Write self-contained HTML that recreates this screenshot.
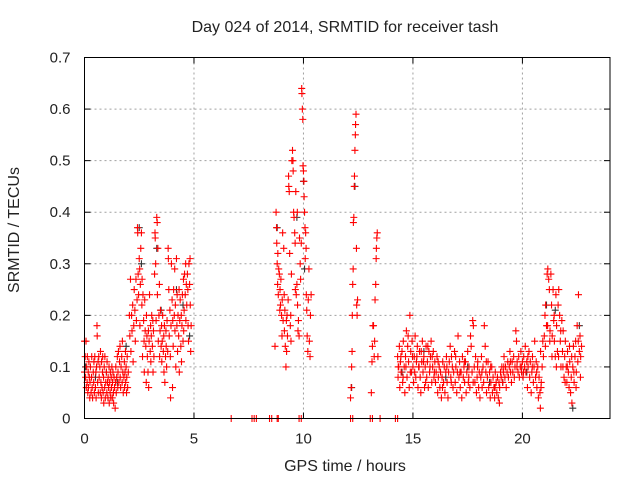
<!DOCTYPE html>
<html><head><meta charset="utf-8"><style>
body{margin:0;background:#fff;width:640px;height:480px;overflow:hidden}
svg{font-family:"Liberation Sans",sans-serif}
</style></head><body>
<svg id="c" width="640" height="480" xmlns="http://www.w3.org/2000/svg"></svg>
<script>
const xTicks=[0,5,10,15,20];
const yTicks=[0,0.1,0.2,0.3,0.4,0.5,0.6,0.7];
const yTickLabels=["0","0.1","0.2","0.3","0.4","0.5","0.6","0.7"];
const segA=[[0,.09],[0,.15],[.03,.12],[.05,.08],[.07,.15],[.08,.06],[.1,.1],[.12,.07],[.13,.12],[.15,.05],[.17,.09],[.18,.06],[.2,.11],[.22,.08],[.24,.04],[.25,.07],[.27,.1],[.3,.05],[.32,.08],[.33,.12],[.35,.06],[.37,.04],[.4,.09],[.42,.07],[.43,.11],[.45,.05],[.47,.12],[.5,.06],[.52,.09],[.53,.04],[.55,.1],[.57,.18],[.58,.16],[.6,.07],[.62,.11],[.63,.05],[.65,.12],[.67,.08],[.7,.1],[.72,.05],[.73,.13],[.75,.07],[.77,.04],[.78,.11],[.8,.06],[.82,.09],[.83,.12],[.85,.05],[.87,.08],[.88,.03],[.9,.1],[.92,.06],[.93,.12],[.95,.04],[.97,.07],[1,.09],[1.02,.05],[1.03,.11],[1.05,.07],[1.07,.04],[1.08,.08],[1.1,.06],[1.12,.1],[1.13,.03],[1.15,.07],[1.17,.05],[1.18,.09],[1.2,.04],[1.22,.08],[1.23,.06],[1.25,.1],[1.27,.04],[1.28,.07],[1.3,.09],[1.32,.05],[1.33,.03],[1.35,.08],[1.37,.06],[1.4,.02],[1.42,.07],[1.43,.1],[1.45,.05],[1.47,.08],[1.5,.12],[1.52,.06],[1.53,.09],[1.55,.13],[1.57,.07],[1.6,.11],[1.62,.14],[1.63,.08],[1.65,.06],[1.67,.1],[1.7,.12],[1.72,.07],[1.73,.15],[1.75,.09],[1.77,.05],[1.8,.08],[1.82,.11],[1.83,.06],[1.85,.09],[1.87,.13],[1.88,.07],[1.9,.1],[1.92,.05],[1.93,.08],[1.95,.12],[1.97,.06],[2,.09]];
const segB=[[2.05,.2],[2.07,.16],[2.1,.27],[2.12,.13],[2.15,.2],[2.17,.17],[2.2,.22],[2.22,.11],[2.25,.18],[2.27,.25],[2.3,.21],[2.32,.15],[2.35,.27],[2.37,.19],[2.4,.23],[2.42,.37],[2.43,.36],[2.45,.28],[2.47,.24],[2.5,.31],[2.52,.29],[2.53,.18],[2.55,.26],[2.57,.33],[2.6,.36],[2.62,.22],[2.63,.27],[2.65,.12],[2.67,.24],[2.7,.19],[2.72,.15],[2.73,.09],[2.75,.23],[2.77,.17],[2.8,.14],[2.82,.07],[2.83,.2],[2.85,.16],[2.87,.12],[2.9,.09],[2.92,.17],[2.93,.06],[2.95,.15],[2.97,.24],[3,.13],[3.02,.18],[3.03,.11],[3.05,.16],[3.07,.2],[3.1,.14],[3.12,.19],[3.13,.09],[3.15,.17],[3.17,.12],[3.2,.28],[3.22,.36],[3.23,.35],[3.25,.3],[3.27,.19],[3.3,.39],[3.32,.38],[3.33,.24],[3.35,.33],[3.37,.15],[3.4,.2],[3.42,.26],[3.43,.12],[3.45,.17],[3.47,.21],[3.5,.14],[3.52,.18],[3.53,.11],[3.55,.15],[3.57,.2],[3.6,.13],[3.62,.16],[3.63,.09],[3.65,.18],[3.67,.07],[3.7,.12],[3.72,.17],[3.73,.14],[3.75,.1],[3.77,.19],[3.8,.13],[3.82,.33],[3.83,.31],[3.85,.25],[3.87,.16],[3.9,.21],[3.92,.12],[3.93,.04],[3.95,.18],[3.97,.3],[4,.23],[4.02,.06],[4.03,.19],[4.05,.14],[4.07,.25],[4.1,.2],[4.12,.29],[4.13,.17],[4.15,.22],[4.17,.1],[4.2,.31],[4.22,.18],[4.23,.24],[4.25,.13],[4.27,.2],[4.3,.16],[4.32,.25],[4.33,.09],[4.35,.19],[4.37,.23],[4.4,.14],[4.42,.2],[4.43,.11],[4.45,.18],[4.47,.24],[4.5,.15],[4.52,.27],[4.53,.17],[4.55,.21],[4.57,.28],[4.6,.24],[4.62,.3],[4.63,.19],[4.65,.26],[4.67,.22],[4.7,.28],[4.72,.25],[4.73,.18],[4.75,.15],[4.77,.3],[4.8,.26],[4.82,.31],[4.83,.22],[4.85,.13],[4.87,.18]];
const segC=[[8.7,.14],[8.75,.4],[8.77,.37],[8.78,.34],[8.8,.3],[8.82,.26],[8.83,.32],[8.85,.24],[8.87,.29],[8.9,.28],[8.92,.21],[8.93,.25],[8.95,.22],[8.97,.27],[9,.2],[9.02,.16],[9.03,.23],[9.05,.36],[9.07,.19],[9.1,.33],[9.12,.24],[9.13,.17],[9.15,.21],[9.17,.14],[9.2,.1],[9.22,.19],[9.23,.13],[9.25,.2],[9.27,.16],[9.3,.23],[9.32,.47],[9.33,.45],[9.35,.44],[9.37,.32],[9.4,.18],[9.42,.2],[9.43,.15],[9.45,.28],[9.47,.5],[9.5,.52],[9.52,.5],[9.53,.48],[9.55,.4],[9.57,.39],[9.6,.36],[9.62,.34],[9.63,.25],[9.65,.44],[9.67,.24],[9.7,.26],[9.72,.4],[9.73,.22],[9.75,.17],[9.77,.19],[9.8,.16],[9.82,.35],[9.85,.3],[9.87,.27],[9.9,.34],[9.92,.64],[9.93,.63],[9.95,.6],[9.97,.58],[9.98,.49],[10,.48],[10.02,.46],[10.03,.43],[10.05,.4],[10.07,.37],[10.08,.31],[10.1,.36],[10.12,.33],[10.13,.24],[10.15,.21],[10.17,.16],[10.2,.13],[10.22,.23],[10.25,.29],[10.27,.15],[10.3,.12],[10.32,.2],[10.35,.24]];
const segD=[[12.15,.04],[12.18,.06],[12.2,.1],[12.22,.13],[12.23,.2],[12.25,.26],[12.27,.29],[12.28,.38],[12.3,.39],[12.32,.45],[12.33,.47],[12.35,.52],[12.37,.55],[12.38,.57],[12.4,.59],[12.42,.33],[12.43,.22],[12.45,.2],[12.47,.23],[13.1,.05],[13.13,.11],[13.15,.14],[13.17,.18],[13.2,.18],[13.23,.12],[13.25,.15],[13.27,.23],[13.3,.26],[13.32,.31],[13.33,.33],[13.35,.35],[13.37,.36],[13.4,.12]];
const segF=[[14.3,.12],[14.32,.08],[14.35,.1],[14.38,.14],[14.4,.06],[14.43,.11],[14.46,.09],[14.5,.13],[14.53,.07],[14.56,.15],[14.6,.1],[14.63,.05],[14.66,.12],[14.7,.17],[14.73,.08],[14.76,.14],[14.8,.11],[14.83,.06],[14.86,.2],[14.9,.13],[14.93,.09],[14.96,.15],[15,.1],[15.03,.07],[15.06,.12],[15.1,.16],[15.13,.08],[15.16,.11],[15.2,.14],[15.23,.06],[15.26,.1],[15.3,.13],[15.33,.08],[15.36,.05],[15.4,.11],[15.43,.15],[15.46,.09],[15.5,.12],[15.53,.06],[15.56,.1],[15.6,.14],[15.63,.08],[15.66,.11],[15.7,.06],[15.73,.13],[15.76,.09],[15.8,.12],[15.83,.15],[15.86,.07],[15.9,.1],[15.93,.13],[15.96,.08],[16,.11],
[14.33,.1],[14.45,.12],[14.55,.08],[14.68,.1],[14.78,.16],[14.88,.09],[14.98,.12],[15.08,.09],[15.18,.12],[15.28,.1],[15.38,.13],[15.48,.11],[15.58,.07],[15.68,.14],[15.78,.1],[15.88,.12],[15.98,.09]];
const segG=[[16.03,.07],[16.06,.09],[16.1,.12],[16.13,.05],[16.16,.08],[16.2,.1],[16.23,.06],[16.26,.09],[16.3,.04],[16.33,.08],[16.36,.11],[16.4,.07],[16.43,.1],[16.46,.05],[16.5,.09],[16.53,.12],[16.56,.07],[16.6,.04],[16.63,.09],[16.66,.11],[16.7,.14],[16.73,.08],[16.76,.12],[16.8,.1],[16.83,.06],[16.86,.09],[16.9,.13],[16.93,.07],[16.96,.1],[17,.05],[17.03,.09],[17.06,.16],[17.1,.08],[17.13,.11],[17.16,.06],[17.2,.09],[17.23,.04],[17.26,.12],[17.3,.08],[17.33,.1],[17.36,.07],[17.4,.11],[17.43,.05],[17.46,.09],[17.5,.13],[17.53,.07],[17.56,.1],[17.6,.06],[17.63,.16],[17.66,.14],[17.7,.09],[17.73,.19],[17.76,.18],[17.8,.1],[17.83,.07],[17.86,.12],[17.9,.05],[17.93,.08],[17.96,.11],[18,.06],[18.03,.09],[18.06,.04],[18.1,.08],[18.13,.12],[18.16,.06],[18.2,.1],[18.23,.07],[18.26,.18],[18.3,.14],[18.33,.09],[18.36,.05],[18.4,.08],[18.43,.11],[18.46,.06],[18.5,.09],[18.53,.04],[18.56,.07],[18.6,.1],[18.63,.05],[18.66,.08],[18.7,.06],[18.73,.04],[18.76,.09],[18.8,.07],[18.83,.05],[18.86,.08],[18.9,.04],[18.93,.07],[18.96,.06],[19,.09],
[16.15,.11],[16.35,.06],[16.55,.1],[16.75,.07],[16.95,.12],[17.15,.09],[17.35,.11],[17.55,.08],[17.75,.07],[17.95,.1],[18.15,.09],[18.35,.11],[18.55,.1],[18.75,.06],[18.95,.03]];
const segH=[[19.03,.08],[19.06,.1],[19.1,.07],[19.13,.09],[19.16,.12],[19.2,.08],[19.23,.1],[19.26,.06],[19.3,.09],[19.33,.11],[19.36,.08],[19.4,.1],[19.43,.13],[19.46,.09],[19.5,.07],[19.53,.11],[19.56,.09],[19.6,.12],[19.63,.08],[19.66,.1],[19.7,.17],[19.73,.15],[19.76,.11],[19.8,.09],[19.83,.12],[19.86,.08],[19.9,.1],[19.93,.13],[19.96,.09],[20,.11],[20.03,.08],[20.06,.12],[20.1,.1],[20.13,.14],[20.16,.09],[20.2,.11],[20.23,.06],[20.26,.1],[20.3,.13],[20.33,.08],[20.36,.11],[20.4,.05],[20.43,.09],[20.46,.12],[20.5,.07],[20.53,.1],[20.56,.15],[20.6,.08],[20.63,.11],[20.66,.06],[20.7,.1],[20.73,.04],[20.76,.08],[20.8,.05],[20.83,.13],[20.86,.07],[20.9,.1],[20.93,.15],[20.96,.12],
[19.15,.1],[19.45,.11],[19.75,.1],[19.95,.1],[20.05,.09],[20.25,.12],[20.45,.1],[20.65,.09],[20.85,.06],[20.82,.02]];
const segI=[[21,.16],[21.03,.2],[21.06,.22],[21.1,.18],[21.13,.28],[21.16,.29],[21.2,.27],[21.23,.25],[21.26,.17],[21.3,.28],[21.33,.22],[21.36,.16],[21.4,.25],[21.43,.19],[21.46,.15],[21.5,.12],[21.53,.24],[21.56,.18],[21.6,.13],[21.63,.22],[21.66,.25],[21.7,.2],[21.73,.15],[21.76,.1],[21.8,.19],[21.83,.13],[21.86,.17],[21.9,.08],[21.93,.12],[21.96,.15],[22,.1],[22.03,.07],[22.06,.13],[22.1,.09],[22.13,.06],[22.16,.11],[22.2,.05],[22.23,.08],[22.26,.03],[22.3,.1],[22.33,.14],[22.36,.07],[22.4,.12],[22.43,.15],[22.46,.09],[22.5,.18],[22.53,.11],[22.56,.24],[22.6,.13],[22.63,.16],[22.66,.12],[22.7,.14],
[21.05,.14],[21.15,.18],[21.25,.15],[21.35,.12],[21.45,.2],[21.55,.1],[21.65,.12],[21.75,.17],[21.85,.1],[21.95,.07],[22.05,.1],[22.15,.14],[22.25,.12],[22.35,.09],[22.45,.06],[22.55,.15],[22.65,.08]];
const zeroHours=[6.7,7.65,7.75,7.85,8.45,8.55,8.8,8.85,9.8,9.9,12.15,12.25,13.05,13.15,13.5,14.2,14.3];
const blackPts=[[0.05,.1],[0.5,.08],[1.0,.09],[1.5,.07],[1.9,.14],[2.5,.37],[2.6,.3],[3.3,.33],[3.5,.21],[4.2,.25],[4.5,.22],[4.8,.16],[8.8,.37],[9.7,.39],[10.0,.46],[10.05,.29],[12.35,.45],[12.2,.06],[14.5,.09],[15.5,.13],[16.5,.08],[17.5,.1],[18.5,.07],[19.1,.07],[20.2,.09],[21.1,.22],[21.5,.21],[22.6,.18],[22.3,.02]];

const L=84.5,R=610,T=57.5,B=418.5,XMAX=24,YMAX=0.7;
const xs=h=>L+h/XMAX*(R-L);
const ys=v=>B-v/YMAX*(B-T);
const svg=document.getElementById('c');
const NS='http://www.w3.org/2000/svg';
function mk(tag,attrs,parent){const e=document.createElementNS(NS,tag);for(const k in attrs)e.setAttribute(k,attrs[k]);(parent||svg).appendChild(e);return e;}

const grid=mk('g',{});


yTicks.forEach((v,i)=>{
  const y=ys(v);
  if(i>0&&i<yTicks.length-1){const g=mk('line',{x1:L,x2:R,y1:y,y2:y,stroke:'#a0a0a0','stroke-dasharray':'2,3','stroke-width':1},grid);}
  const tk=mk('line',{x1:L,x2:L+6,y1:y,y2:y,stroke:'#000'});
  const tk2=mk('line',{x1:R,x2:R-6,y1:y,y2:y,stroke:'#000'});
  const t=mk('text',{x:L-14,y:y+5,'text-anchor':'end','font-size':15,fill:'#222'});t.textContent=yTickLabels[i];
  
  
});
xTicks.forEach(h=>{
  const x=xs(h);
  if(h>0){const g=mk('line',{x1:x,x2:x,y1:T,y2:B,stroke:'#a0a0a0','stroke-dasharray':'2,3','stroke-width':1},grid);}
  const tk=mk('line',{x1:x,x2:x,y1:B,y2:B-6,stroke:'#000'});
  const tk2=mk('line',{x1:x,x2:x,y1:T,y2:T+6,stroke:'#000'});
  const t=mk('text',{x:x,y:B+25,'text-anchor':'middle','font-size':15,fill:'#222'});t.textContent=String(h);
  
  
});
function plus(g,x,y,c){mk('path',{d:`M${x-3.5},${y}H${x+3.5}M${x},${y-3.5}V${y+3.5}`,stroke:c,'stroke-width':1.1,fill:'none'},g);}
const gb=mk('g',{});


blackPts.forEach(p=>plus(gb,xs(p[0]),ys(p[1]),'#333'));
const gr=mk('g',{});


[segA,segB,segC,segD,segF,segG,segH,segI].forEach(s=>s.forEach(p=>plus(gr,xs(p[0]),ys(p[1]),'#ff0000')));
zeroHours.forEach(h=>plus(gr,xs(h),ys(0),'#ff0000'));
const fr=mk('rect',{x:L,y:T,width:R-L,height:B-T,fill:'none',stroke:'#000','stroke-width':1});


const title=mk('text',{x:345,y:32,'text-anchor':'middle','font-size':16,fill:'#222'});
title.textContent='Day 024 of 2014, SRMTID for receiver tash';


const xt=mk('text',{x:345,y:471,'text-anchor':'middle','font-size':16,fill:'#222'});
xt.textContent='GPS time / hours';


const yt=mk('text',{x:19,y:230,'text-anchor':'middle','font-size':16,fill:'#222',transform:'rotate(-90 19 230)'});
yt.textContent='SRMTID / TECUs';


</script>
</body></html>
